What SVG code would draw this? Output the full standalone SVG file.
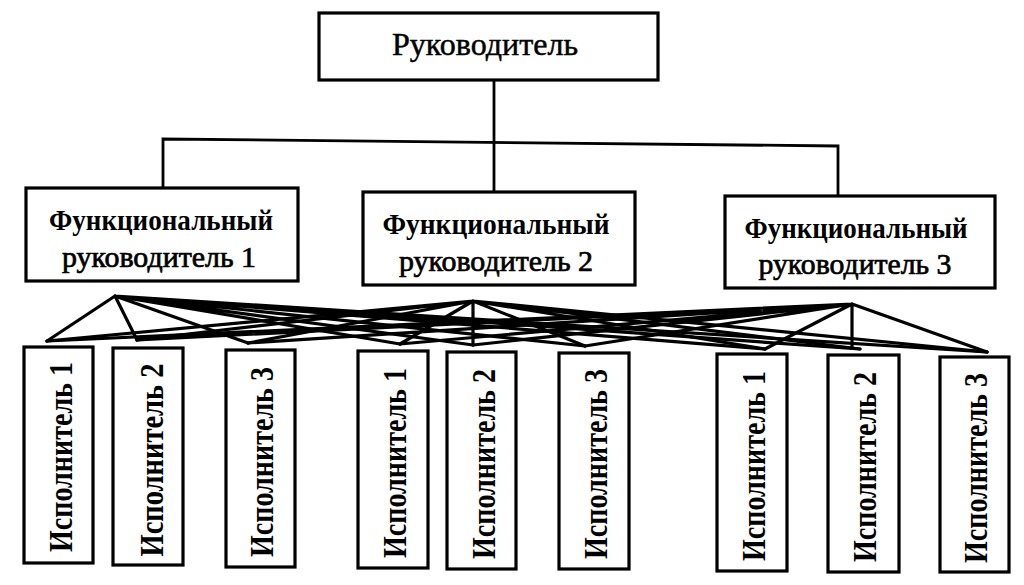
<svg xmlns="http://www.w3.org/2000/svg" width="1024" height="585" viewBox="0 0 1024 585">
<style>
.box{fill:#fff;stroke:#000;stroke-width:3.2}
.ln{stroke:#000;stroke-width:2.8;fill:none;stroke-linecap:round}
.mx{stroke:#000;stroke-width:3.2;fill:none;stroke-linecap:round}
.t{font-family:"Liberation Serif","Times New Roman",serif;fill:#000}
.h{font-size:32px;stroke:#000;stroke-width:0.5}
.fb{font-size:29px;font-weight:bold}
.fn{font-size:29px;stroke:#000;stroke-width:0.7}
.v{font-size:33px;font-weight:bold}
</style>
<rect width="1024" height="585" fill="#fff"/>
<g id="connectors">
<polyline class="ln" points="494,80 494,192"/>
<polyline class="ln" points="163,188 163,139 838,146 838,196"/>
<g id="matrix">
<path class="mx" d="M115,296 L47,341 M115,296 L137,340 M115,296 L248,343 M115,296 L400,344 M115,296 L473,345 M115,296 L585,346 M115,296 L765,349 M115,296 L860,349 M115,296 L987,352"/>
<path class="mx" d="M473,301 L47,341 M473,301 L137,340 M473,301 L248,343 M473,301 L400,344 M473,301 L473,345 M473,301 L585,346 M473,301 L765,349 M473,301 L860,349 M473,301 L987,352"/>
<path class="mx" d="M852,304 L47,341 M852,304 L137,340 M852,304 L248,343 M852,304 L400,344 M852,304 L473,345 M852,304 L585,346 M852,304 L765,349 M852,304 L852,348 M852,304 L987,352"/>
</g>
</g>
<g id="head">
<rect class="box" x="319" y="13" width="339" height="67"/>
<text class="t h" x="485" y="55" text-anchor="middle" textLength="186" lengthAdjust="spacingAndGlyphs">Руководитель</text>
</g>
<g id="f1">
<rect class="box" x="26" y="188" width="272" height="93"/>
<text class="t fb" x="161" y="230" text-anchor="middle" textLength="224" lengthAdjust="spacingAndGlyphs">Функциональный</text>
<text class="t fn" x="159" y="267" text-anchor="middle" textLength="194" lengthAdjust="spacingAndGlyphs">руководитель 1</text>
</g>
<g id="f2">
<rect class="box" x="363" y="192" width="272" height="93"/>
<text class="t fb" x="496" y="234" text-anchor="middle" textLength="227" lengthAdjust="spacingAndGlyphs">Функциональный</text>
<text class="t fn" x="496" y="271" text-anchor="middle" textLength="194" lengthAdjust="spacingAndGlyphs">руководитель 2</text>
</g>
<g id="f3">
<rect class="box" x="725" y="196" width="270" height="92"/>
<text class="t fb" x="856" y="238" text-anchor="middle" textLength="223" lengthAdjust="spacingAndGlyphs">Функциональный</text>
<text class="t fn" x="855" y="274" text-anchor="middle" textLength="193" lengthAdjust="spacingAndGlyphs">руководитель 3</text>
</g>
<g id="e1"><rect class="box" x="24" y="347" width="69" height="216"/><text class="t v" transform="translate(72,457) rotate(-90)" text-anchor="middle" textLength="190" lengthAdjust="spacingAndGlyphs">Исполнитель 1</text></g>
<g id="e2"><rect class="box" x="113" y="348" width="70" height="217"/><text class="t v" transform="translate(163,460) rotate(-90)" text-anchor="middle" textLength="193" lengthAdjust="spacingAndGlyphs">Исполнитель 2</text></g>
<g id="e3"><rect class="box" x="226" y="350" width="69" height="217"/><text class="t v" transform="translate(273,462) rotate(-90)" text-anchor="middle" textLength="190" lengthAdjust="spacingAndGlyphs">Исполнитель 3</text></g>
<g id="e4"><rect class="box" x="358" y="351" width="70" height="217"/><text class="t v" transform="translate(406,463) rotate(-90)" text-anchor="middle" textLength="190" lengthAdjust="spacingAndGlyphs">Исполнитель 1</text></g>
<g id="e5"><rect class="box" x="447" y="352" width="69" height="217"/><text class="t v" transform="translate(495,464) rotate(-90)" text-anchor="middle" textLength="190" lengthAdjust="spacingAndGlyphs">Исполнитель 2</text></g>
<g id="e6"><rect class="box" x="559" y="353" width="70" height="216"/><text class="t v" transform="translate(607,464) rotate(-90)" text-anchor="middle" textLength="190" lengthAdjust="spacingAndGlyphs">Исполнитель 3</text></g>
<g id="e7"><rect class="box" x="717" y="354" width="70" height="217"/><text class="t v" transform="translate(765,466) rotate(-90)" text-anchor="middle" textLength="190" lengthAdjust="spacingAndGlyphs">Исполнитель 1</text></g>
<g id="e8"><rect class="box" x="828" y="355" width="71" height="217"/><text class="t v" transform="translate(876,467) rotate(-90)" text-anchor="middle" textLength="190" lengthAdjust="spacingAndGlyphs">Исполнитель 2</text></g>
<g id="e9"><rect class="box" x="940" y="357" width="69" height="215"/><text class="t v" transform="translate(987,468) rotate(-90)" text-anchor="middle" textLength="190" lengthAdjust="spacingAndGlyphs">Исполнитель 3</text></g>
</svg>
